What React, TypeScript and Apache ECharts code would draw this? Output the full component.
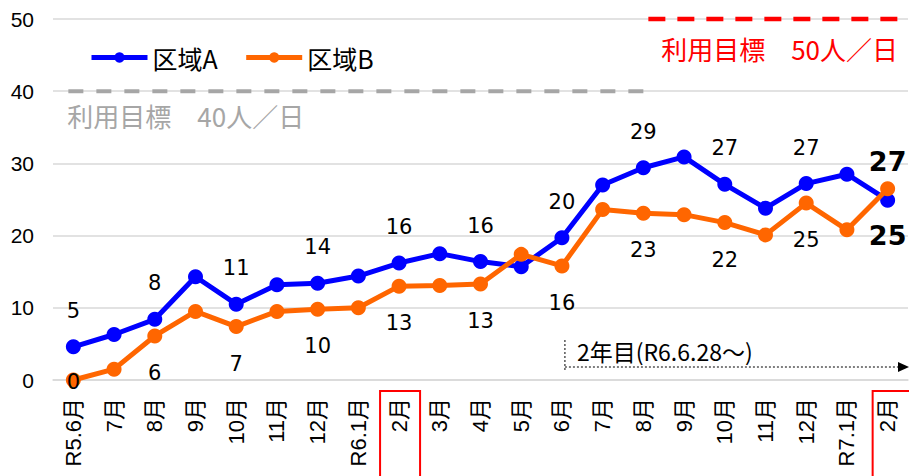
import React, { useEffect, useRef } from "react";
import * as echarts from "echarts";

const categories = ["R5.6月", "7月", "8月", "9月", "10月", "11月", "12月", "R6.1月", "2月", "3月", "4月", "5月", "6月", "7月", "8月", "9月", "10月", "11月", "12月", "R7.1月", "2月"];
const valuesA = [4.6, 6.3, 8.4, 14.3, 10.5, 13.2, 13.4, 14.4, 16.2, 17.5, 16.4, 15.7, 19.7, 27.0, 29.4, 30.9, 27.1, 23.8, 27.2, 28.5, 24.9];
const valuesB = [0, 1.5, 6.1, 9.5, 7.4, 9.5, 9.8, 10.0, 13.0, 13.1, 13.3, 17.4, 15.8, 23.6, 23.1, 22.9, 21.8, 20.1, 24.5, 20.8, 26.5];
const labelsA = ["5", null, "8", null, "11", null, "14", null, "16", null, "16", null, "20", null, "29", null, "27", null, "27", null, "25"];
const labelsB = ["0", null, "6", null, "7", null, "10", null, "13", null, "13", null, "16", null, "23", null, "22", null, "25", null, "27"];
const seriesNames = ["区域A", "区域B"];
const yTicks = [0, 10, 20, 30, 40, 50];
const targetLow = 40;
const targetHigh = 50;
const targetLowText = "利用目標　40人／日";
const targetHighText = "利用目標　50人／日";
const periodText = "2年目(R6.6.28～)";
const highlightIndices = [8, 20];

const BLUE = "#0000FF";
const ORANGE = "#FF6600";
const LABEL_FONT = "'DejaVu Sans', Verdana, sans-serif";
const CJK_FONT = "'Noto Sans CJK JP', 'Noto Sans', sans-serif";
const AXIS_FONT = "'Liberation Sans', Arial, 'Noto Sans CJK JP', sans-serif";

function buildData(values: number[], labels: (string | null)[], isA: boolean) {
  const last = values.length - 1;
  return values.map((v, i) => {
    const text = labels[i];
    if (text == null) return { value: v, label: { show: false } };
    let offset = isA ? [0, -36] : [0, 37];
    let bold = false;
    if (i === last) {
      bold = true;
      offset = isA ? [0, 35] : [0, -27];
    } else if (!isA && i === 0) {
      offset = [0, 2];
    }
    return {
      value: v,
      label: {
        show: true,
        position: "inside",
        offset,
        formatter: text,
        color: "#000",
        fontFamily: LABEL_FONT,
        fontSize: bold ? 27 : 21,
        fontWeight: bold ? "bold" : "normal",
      },
    };
  });
}

export default function App() {
  const ref = useRef<HTMLDivElement>(null);
  useEffect(() => {
    if (!ref.current) return;
    const chart = echarts.init(ref.current, null, { renderer: "svg" });
    const option: any = {
      animation: false,
      backgroundColor: "#ffffff",
      textStyle: { fontFamily: AXIS_FONT },
      grid: { left: 53, right: 1, top: 19, bottom: 96, containLabel: false },
      legend: {
        data: seriesNames,
        left: 84,
        top: 40,
        itemWidth: 56,
        itemHeight: 13,
        itemGap: 26,
        lineStyle: { width: 5 },
        textStyle: { fontSize: 25, color: "#000", fontFamily: CJK_FONT },
      },
      xAxis: {
        type: "category",
        data: categories,
        boundaryGap: true,
        axisLine: { show: true, lineStyle: { color: "#d9d9d9", width: 1.5 } },
        axisTick: { show: false },
        axisLabel: {
          interval: 0,
          rotate: 90,
          margin: 18,
          fontSize: 22,
          color: "#000",
          fontFamily: AXIS_FONT,
        },
      },
      yAxis: {
        type: "value",
        min: yTicks[0],
        max: yTicks[yTicks.length - 1],
        interval: yTicks[1] - yTicks[0],
        axisLine: { show: false },
        axisTick: { show: false },
        axisLabel: { fontSize: 21, color: "#000", margin: 19, fontFamily: AXIS_FONT },
        splitLine: { lineStyle: { color: "#d9d9d9", width: 1.5 } },
      },
      series: [
        {
          name: seriesNames[0],
          type: "line",
          data: buildData(valuesA, labelsA, true),
          symbol: "circle",
          symbolSize: 15,
          lineStyle: { color: BLUE, width: 5 },
          itemStyle: { color: BLUE },
          z: 3,
        },
        {
          name: seriesNames[1],
          type: "line",
          data: buildData(valuesB, labelsB, false),
          symbol: "circle",
          symbolSize: 15,
          lineStyle: { color: ORANGE, width: 5 },
          itemStyle: { color: ORANGE },
          z: 4,
        },
      ],
    };
    chart.setOption(option);

    const px = (i: number, v: number) => chart.convertToPixel({ xAxisIndex: 0, yAxisIndex: 0 }, [i, v]) as number[];
    const p0 = px(0, 0);
    const p1 = px(1, 0);
    const step = p1[0] - p0[0];
    const xAt = (pos: number) => p0[0] + pos * step;
    const yAt = (v: number) => px(0, v)[1];
    const W = 909;
    const yLow = yAt(targetLow);
    const yHigh = yAt(targetHigh);
    const yZero = yAt(0);
    const lineStartX = xAt(12) + 3;
    const arrowY = yZero - 13;

    const graphic: any[] = [
      {
        type: "line",
        shape: { x1: xAt(0) - 5, y1: yLow, x2: xAt(14), y2: yLow },
        style: { stroke: "#a6a6a6", lineWidth: 4, lineDash: [15, 13] },
        z: 10,
      },
      {
        type: "text",
        x: xAt(0) - 6,
        y: yLow + 24,
        style: { text: targetLowText, fill: "#a6a6a6", fontSize: 26, fontFamily: CJK_FONT, verticalAlign: "middle", align: "left" },
        z: 10,
      },
      {
        type: "line",
        shape: { x1: xAt(14) + 5, y1: yHigh, x2: W, y2: yHigh },
        style: { stroke: "#ff0000", lineWidth: 4.5, lineDash: [17, 12] },
        z: 10,
      },
      {
        type: "text",
        x: 898,
        y: yHigh + 29,
        style: { text: targetHighText, fill: "#ff0000", fontSize: 26, fontFamily: CJK_FONT, verticalAlign: "middle", align: "right" },
        z: 10,
      },
      {
        type: "line",
        shape: { x1: lineStartX, y1: yZero - 40, x2: lineStartX, y2: yZero - 8 },
        style: { stroke: "#000", lineWidth: 1, lineDash: [2, 2] },
        z: 10,
      },
      {
        type: "line",
        shape: { x1: lineStartX, y1: arrowY, x2: 898, y2: arrowY },
        style: { stroke: "#000", lineWidth: 1, lineDash: [2, 2] },
        z: 10,
      },
      {
        type: "polygon",
        shape: { points: [[898, arrowY - 5], [909, arrowY], [898, arrowY + 5]] },
        style: { fill: "#000" },
        z: 10,
      },
      {
        type: "text",
        x: lineStartX + 12,
        y: yZero - 29,
        style: { text: periodText, fill: "#000", fontSize: 23, fontFamily: CJK_FONT, verticalAlign: "middle", align: "left" },
        z: 10,
      },
    ];
    highlightIndices.forEach((idx, k) => {
      const cx = xAt(idx);
      const left = k === highlightIndices.length - 1 ? cx - 15 : cx - 19;
      graphic.push({
        type: "rect",
        shape: { x: left, y: yZero + 11, width: 40, height: 100 },
        style: { fill: "none", stroke: "#ff0000", lineWidth: 2 },
        z: 10,
      });
    });
    chart.setOption({ graphic });

    return () => chart.dispose();
  }, []);

  return (
    <div
      ref={ref}
      style={{ position: "fixed", left: 0, top: 0, width: 909, height: 476 }}
    />
  );
}
